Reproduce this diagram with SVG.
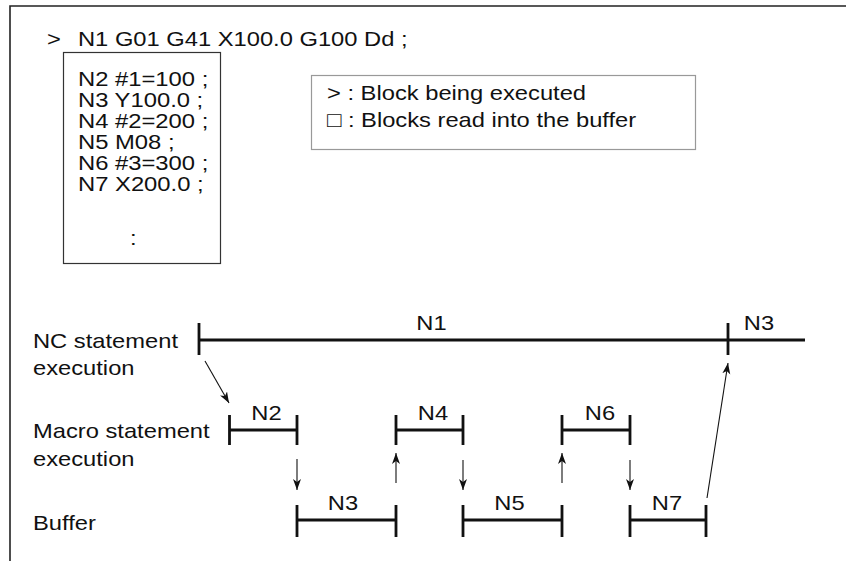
<svg xmlns="http://www.w3.org/2000/svg" width="846" height="561" viewBox="0 0 846 561">
<style>
.t{font-family:"Liberation Sans",Arial,sans-serif;font-size:21px;fill:#111}
.p{font-size:20px}
.m{text-anchor:middle}
.frame{stroke:#222;stroke-width:1.6;fill:none}
.box{fill:none;stroke:#333;stroke-width:1.2}
.legend{fill:none;stroke:#999;stroke-width:1.2}
.bar{stroke:#111;stroke-width:2.8;fill:none}
.arr{stroke:#111;stroke-width:1.1;fill:none;marker-end:url(#ah)}
</style>
<defs>
<marker id="ah" markerUnits="userSpaceOnUse" markerWidth="12" markerHeight="9" refX="11" refY="4" orient="auto">
<path d="M0,0 L11,4 L0,8 L3,4 Z" fill="#111"/>
</marker>
</defs>
<rect width="846" height="561" fill="#fff"/>
<g id="frame">
<path class="frame" d="M10,561 V6 H846"/>
</g>
<g id="header">
<text class="t" transform="translate(47,46) scale(1.13,1)">&gt;</text>
<text class="t" transform="translate(78,46) scale(1.13,1)">N1 G01 G41 X100.0 G100 Dd ;</text>
</g>
<g id="program">
<rect class="box" x="63.5" y="52.5" width="157" height="211"/>
<text class="t p" transform="translate(78,86) scale(1.19,1)">N2 #1=100 ;</text>
<text class="t p" transform="translate(78,107) scale(1.19,1)">N3 Y100.0 ;</text>
<text class="t p" transform="translate(78,128) scale(1.19,1)">N4 #2=200 ;</text>
<text class="t p" transform="translate(78,149) scale(1.19,1)">N5 M08 ;</text>
<text class="t p" transform="translate(78,170) scale(1.19,1)">N6 #3=300 ;</text>
<text class="t p" transform="translate(78,191) scale(1.19,1)">N7 X200.0 ;</text>
<text class="t p" transform="translate(130,245) scale(1.19,1)">:</text>
</g>
<g id="legend">
<rect class="legend" x="311.5" y="75.5" width="384" height="74"/>
<text class="t" transform="translate(327,100) scale(1.13,1)">&gt; : Block being executed</text>
<text class="t" transform="translate(327,127) scale(1.13,1)">□ : Blocks read into the buffer</text>
</g>
<g id="labels">
<text class="t" transform="translate(33,348) scale(1.13,1)">NC statement</text>
<text class="t" transform="translate(33,375) scale(1.13,1)">execution</text>
<text class="t" transform="translate(33,438) scale(1.13,1)">Macro statement</text>
<text class="t" transform="translate(33,466) scale(1.13,1)">execution</text>
<text class="t" transform="translate(33,530) scale(1.13,1)">Buffer</text>
</g>
<g id="nc-row">
<path class="bar" d="M199,340 H805 M199,323 V355 M728,323 V355"/>
<text class="t m" transform="translate(431.5,330) scale(1.13,1)">N1</text>
<text class="t m" transform="translate(759,330) scale(1.13,1)">N3</text>
</g>
<g id="macro-N2">
<path class="bar" d="M229.5,430 H297 M229.5,415 V445 M297,415 V445"/>
<text class="t m" transform="translate(266.5,420) scale(1.13,1)">N2</text>
</g>
<g id="macro-N4">
<path class="bar" d="M396,430 H463 M396,415 V445 M463,415 V445"/>
<text class="t m" transform="translate(433,420) scale(1.13,1)">N4</text>
</g>
<g id="macro-N6">
<path class="bar" d="M562,430 H630 M562,415 V445 M630,415 V445"/>
<text class="t m" transform="translate(600,420) scale(1.13,1)">N6</text>
</g>
<g id="buffer-N3">
<path class="bar" d="M297,520 H396 M297,505 V537 M396,505 V537"/>
<text class="t m" transform="translate(343,510) scale(1.13,1)">N3</text>
</g>
<g id="buffer-N5">
<path class="bar" d="M463,520 H562 M463,505 V537 M562,505 V537"/>
<text class="t m" transform="translate(509.5,510) scale(1.13,1)">N5</text>
</g>
<g id="buffer-N7">
<path class="bar" d="M630,520 H706 M630,505 V537 M706,505 V537"/>
<text class="t m" transform="translate(667,510) scale(1.13,1)">N7</text>
</g>
<g id="connectors">
<line class="arr" x1="205" y1="361" x2="229" y2="403"/>
<line class="arr" x1="297" y1="459" x2="297" y2="490"/>
<line class="arr" x1="396" y1="483" x2="396" y2="453"/>
<line class="arr" x1="463" y1="460" x2="463" y2="490"/>
<line class="arr" x1="562" y1="483" x2="562" y2="453"/>
<line class="arr" x1="630" y1="460" x2="630" y2="490"/>
<line class="arr" x1="707" y1="498" x2="728" y2="363"/>
</g>
</svg>
